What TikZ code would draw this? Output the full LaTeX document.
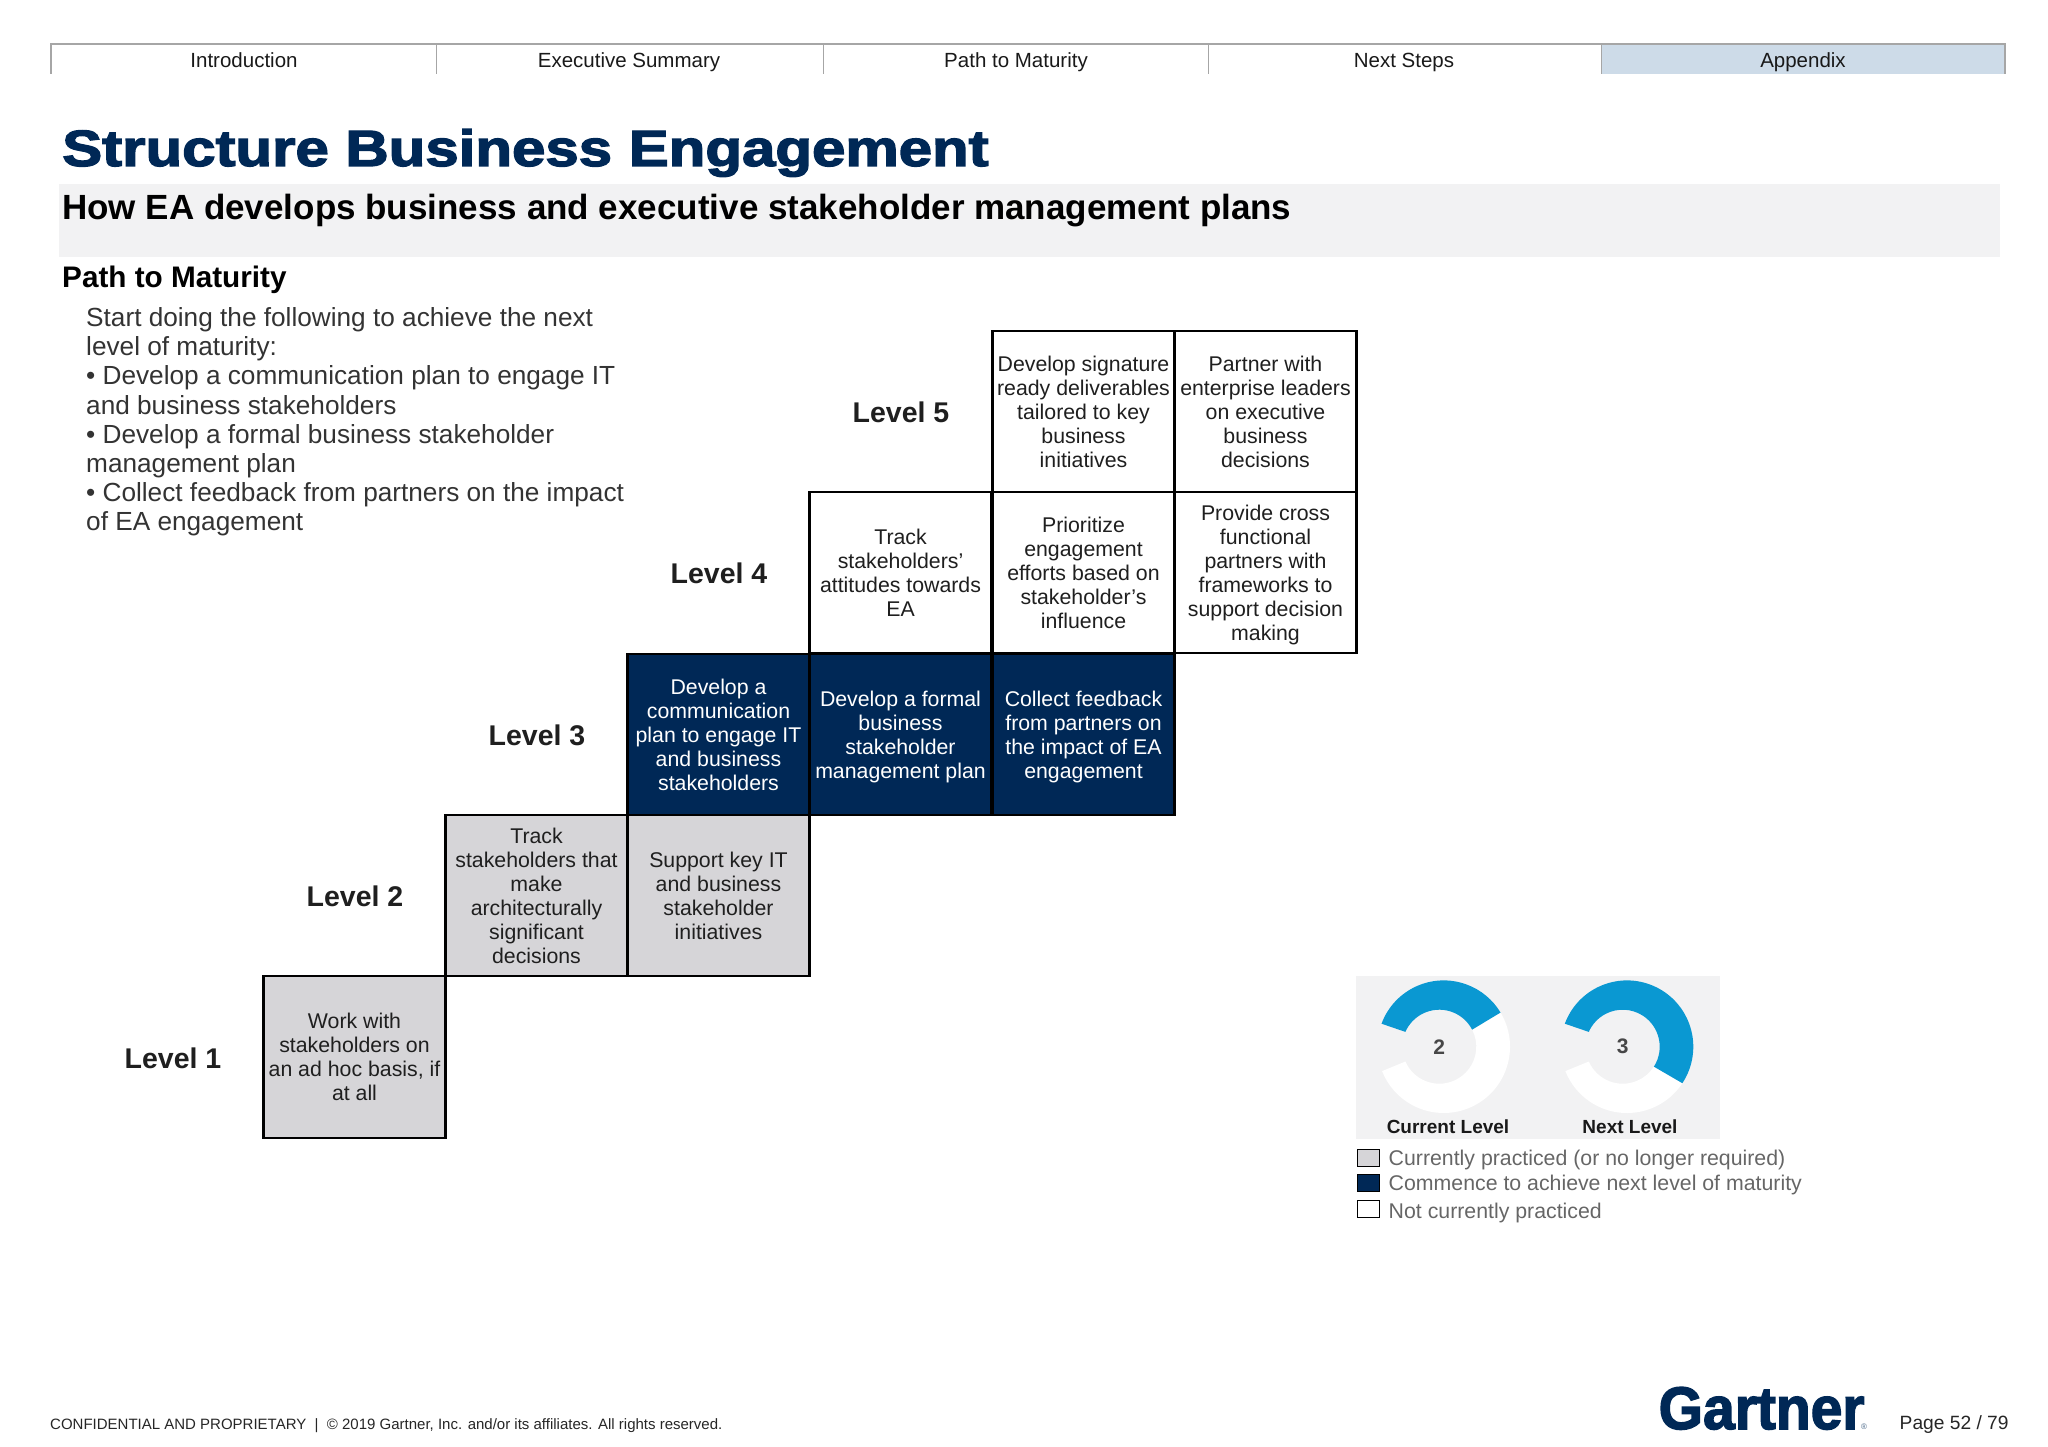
\documentclass[tikz,border=0pt]{standalone}
\usepackage{fontspec}
\setmainfont{Liberation Sans}
\newfontfamily\titlefont[FakeBold=2.5]{Liberation Sans Bold}
\usetikzlibrary{positioning}
\definecolor{navy}{HTML}{002856}
\definecolor{palecell}{HTML}{D6D5D8}
\definecolor{tabblue}{HTML}{CDDBE8}
\definecolor{tabline}{HTML}{A6A6A6}
\definecolor{band}{HTML}{F2F2F3}
\definecolor{ringblue}{HTML}{0A98D2}
\definecolor{bodygrey}{HTML}{333333}
\definecolor{keygrey}{HTML}{666666}
\tikzset{
    cellbox/.style={draw=black,line width=2.2pt,minimum width=182pt,minimum height=161.4pt,
        align=center,text depth=0pt,text=black!88,font=\fontsize{21.3}{24}\selectfont},
    cellpale/.style={cellbox,fill=palecell},
    cellnavy/.style={cellbox,fill=navy,text=white},
    cellopen/.style={cellbox,fill=white},
    levellabel/.style={xshift=1pt,yshift=-1.3pt,font=\fontsize{28.5}{32}\bfseries\selectfont,text=black!88},
    tablabel/.style={anchor=base,font=\fontsize{20.5}{24}\selectfont,text=black!90},
    ringnum/.style={font=\fontsize{21}{24}\bfseries\selectfont,text=black!72},
    ringcap/.style={font=\fontsize{19}{22}\bfseries\selectfont,text=black!90},
    keybox/.style={draw=black,line width=1.8pt,minimum width=22pt,minimum height=17pt},
    keytext/.style={anchor=base west,font=\fontsize{21.3}{26}\selectfont,text=keygrey}
}

\begin{document}
\begin{tikzpicture}[x=1pt,y=1pt]
    \tikzstyle{every node}+=[inner sep=0pt]
    \useasboundingbox (0,0) rectangle (2048,-1447);
    % top tabs
    \fill [tabblue] (1601,-44) rectangle (2005,-74);
    \draw [tabline,line width=1.4pt] (51,-74) -- (51,-44) -- (2005,-44) -- (2005,-74);
    \draw [tabline,line width=1pt] (436,-44) -- (436,-74);
    \draw [tabline,line width=1pt] (823,-44) -- (823,-74);
    \draw [tabline,line width=1pt] (1208,-44) -- (1208,-74);
    \draw [tabline,line width=1pt] (1601,-44) -- (1601,-74);
    \node [tablabel] (tabintro) at (244,-67.5) {Introduction};
    \node [tablabel] (tabsummary) at (629,-67.5) {Executive Summary};
    \node [tablabel] (tabpath) at (1016,-67.5) {Path to Maturity};
    \node [tablabel] (tabnext) at (1404,-67.5) {Next Steps};
    \node [tablabel] (tabappendix) at (1803,-67.5) {Appendix};
    % headings
    \fill [band] (59,-184) rectangle (2000,-257);
    \node [anchor=base west,text=navy,font=\titlefont\fontsize{51}{56}\selectfont,xscale=1.176] (headline) at (62,-166) {Structure Business Engagement};
    \node [anchor=base west,text=black,font=\fontsize{35}{38}\bfseries\selectfont] (subhead) at (62,-220) {How EA develops business and executive stakeholder management plans};
    \node [anchor=base west,text=black,font=\fontsize{29.7}{32}\bfseries\selectfont] (pathhead) at (62,-288) {Path to Maturity};
    \node [anchor=north west,align=left,text=bodygrey,font=\fontsize{26.2}{29.2}\selectfont] (startlist) at (86,-307.3) {Start doing the following to achieve the next\\level of maturity:\\• Develop a communication plan to engage IT\\and business stakeholders\\• Develop a formal business stakeholder\\management plan\\• Collect feedback from partners on the impact\\of EA engagement};
    % staircase, bottom step first
    \node [cellpale] (cella) at (354.5,-1057) {Work with\\stakeholders on\\an ad hoc basis, if\\at all};
    \node [levellabel] (levela) at (172,-1057) {Level 1};
    \node [cellpale] (cellb) at (536.5,-895.5) {Track\\stakeholders that\\make\\architecturally\\significant\\decisions};
    \node [cellpale] (cellc) at (718.5,-895.5) {Support key IT\\and business\\stakeholder\\initiatives};
    \node [levellabel] (levelb) at (354,-895.5) {Level 2};
    \node [cellnavy] (celld) at (718.5,-734.5) {Develop a\\communication\\plan to engage IT\\and business\\stakeholders};
    \node [cellnavy] (celle) at (900.5,-734.5) {Develop a formal\\business\\stakeholder\\management plan};
    \node [cellnavy] (cellf) at (1083.5,-734.5) {Collect feedback\\from partners on\\the impact of EA\\engagement};
    \node [levellabel] (levelc) at (536,-734) {Level 3};
    \node [cellopen] (cellg) at (900.5,-572.5) {Track\\stakeholders’\\attitudes towards\\EA};
    \node [cellopen] (cellh) at (1083.5,-572.5) {Prioritize\\engagement\\efforts based on\\stakeholder’s\\influence};
    \node [cellopen] (celli) at (1265.5,-572.5) {Provide cross\\functional\\partners with\\frameworks to\\support decision\\making};
    \node [levellabel] (leveld) at (718,-572.5) {Level 4};
    \node [cellopen] (cellj) at (1083.5,-411.5) {Develop signature\\ready deliverables\\tailored to key\\business\\initiatives};
    \node [cellopen] (cellk) at (1265.5,-411.5) {Partner with\\enterprise leaders\\on executive\\business\\decisions};
    \node [levellabel] (levele) at (900,-411.5) {Level 5};
    % rings, the hole sits left of the middle of the outer edge
    \fill [band] (1356,-976) rectangle (1720,-1139);
    \coordinate (ringa) at (1439.3,-1046.7);
    \coordinate (outera) at (1443.7,-1046.7);
    \coordinate (ringb) at (1622.7,-1046.7);
    \coordinate (outerb) at (1627,-1046.7);
    \fill [white] ([shift={(31:66.3)}]outera) arc (31:-158.4:66.3) -- ([shift={(-156.4:37)}]ringa) arc (-156.4:27.5:37) -- cycle;
    \fill [ringblue] ([shift={(159.7:66.3)}]outera) arc (159.7:31:66.3) -- ([shift={(27.5:37)}]ringa) arc (27.5:156.4:37) -- cycle;
    \fill [white] ([shift={(-33.4:66.3)}]outerb) arc (-33.4:-158.4:66.3) -- ([shift={(-156.4:37)}]ringb) arc (-156.4:-32.6:37) -- cycle;
    \fill [ringblue] ([shift={(159.7:66.3)}]outerb) arc (159.7:-33.4:66.3) -- ([shift={(-32.6:37)}]ringb) arc (-32.6:156.4:37) -- cycle;
    \node [ringnum] (numa) at (ringa) {2};
    \node [ringnum] (numb) at (ringb) {3};
    \node [ringcap,anchor=base] (capa) at (1448,-1133) {Current Level};
    \node [ringcap,anchor=base] (capb) at (1630,-1133) {Next Level};
    % key
    \node [keybox,fill=palecell] (keya) at (1368.5,-1158) {};
    \node [keybox,fill=navy] (keyb) at (1368.5,-1183) {};
    \node [keybox,fill=white] (keyc) at (1368.5,-1209) {};
    \node [keytext] (texta) at (1388.5,-1165) {Currently practiced (or no longer required)};
    \node [keytext] (textb) at (1388.5,-1190) {Commence to achieve next level of maturity};
    \node [keytext] (textc) at (1388.5,-1218.5) {Not currently practiced};
    % footer
    \node [anchor=base west,font=\fontsize{15}{16}\selectfont,text=black!85] (confidential) at (50,-1429.5) {CONFIDENTIAL AND PROPRIETARY \ | \ © 2019 Gartner, Inc. and/or its affiliates. All rights reserved.};
    \node [anchor=base west,text=navy,font=\titlefont\fontsize{60}{64}\selectfont,xscale=0.95] (logo) at (1658.5,-1429) {Gartner};
    \node [anchor=base,text=navy!70,font=\fontsize{8}{9}\selectfont] (logomark) at (1864,-1429) {®};
    \node [anchor=base west,font=\fontsize{19.2}{24}\selectfont,text=black!85] (pagenum) at (1899.5,-1429) {Page 52 / 79};
\end{tikzpicture}
\end{document}
